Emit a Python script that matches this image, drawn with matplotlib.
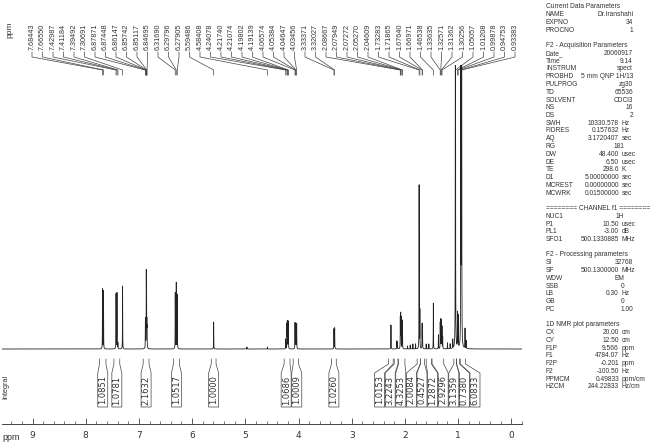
import numpy as np
import matplotlib
matplotlib.use('Agg')
import matplotlib.pyplot as plt
from matplotlib.ticker import MultipleLocator

# ---------------- data ----------------
peak_labels = ['7.68443', '7.66550', '7.42987', '7.41184', '7.39492', '7.30691',
               '6.87871', '6.87448', '6.86147', '6.85742', '6.85117', '6.84695',
               '6.31690', '6.29796', '6.27905', '5.59486', '4.58408', '4.24078',
               '4.21740', '4.21074', '4.19802', '4.19139', '4.06574', '4.05384',
               '4.04647', '4.03456', '3.33371', '3.32027', '2.08667', '2.07949',
               '2.07272', '2.05270', '2.04609', '1.73283', '1.71865', '1.67640',
               '1.66971', '1.46538', '1.33635', '1.32571', '1.31362', '1.30256',
               '1.05057', '1.01208', '0.99878', '0.94753', '0.93383']

# spectrum lines (ppm, relative intensity)
spec_ppm = [7.68443, 7.66550, 7.42987, 7.41184, 7.39492, 7.30691,
            6.87871, 6.87448, 6.86147, 6.85742, 6.85117, 6.84695,
            6.31690, 6.29796, 6.27905, 5.59486, 4.97, 4.58408,
            4.24078, 4.21740, 4.21074, 4.19802, 4.19139,
            4.06574, 4.05384, 4.04647, 4.03456, 3.33371, 3.32027,
            2.262, 2.15, 2.14, 2.08667, 2.07949, 2.07272, 2.05270, 2.04609,
            1.95, 1.90, 1.85, 1.80, 1.73283, 1.71865, 1.67640, 1.66971,
            1.60, 1.55, 1.46538, 1.37, 1.33635, 1.32571, 1.31362, 1.30256, 1.29,
            1.20, 1.15, 1.10, 1.05057, 1.01208, 0.99878, 0.94753, 0.93383,
            0.87, 0.85]
spec_height = [60, 58, 55, 56, 6, 63,
               22, 26, 67, 65, 22, 18,
               56, 66, 54, 27, 2, 2,
               10, 24, 26, 26, 25,
               26, 23, 23, 25, 20, 21,
               24, 8, 6, 30, 33, 30, 27, 25,
               3, 4, 5, 5, 164, 38, 24, 24,
               5, 5, 46, 14, 26, 29, 28, 22, 12,
               6, 5, 9, 700, 35, 32, 700, 600,
               20, 8]

int_values = ['1.0851', '1.0781', '2.1632', '1.0517', '1.0000', '1.0686', '1.0009',
              '1.0260', '1.0153', '3.2243', '4.3253', '2.0084', '0.4527', '1.2872',
              '2.9296', '3.1359', '0.7380', '6.0833']
int_left = [7.74, 7.47, 6.92, 6.35, 5.64, 4.27, 4.10, 3.38, 2.31, 2.20, 2.12,
            1.77, 1.71, 1.60, 1.49, 1.08, 1.03, 0.96]
int_right = [7.62, 7.36, 6.81, 6.24, 5.55, 4.16, 4.00, 3.29, 2.22, 2.13, 2.00,
             1.71, 1.63, 1.50, 1.27, 1.03, 0.97, 0.86]

xtick_values = [9, 8, 7, 6, 5, 4, 3, 2, 1, 0]
xtick_labels = ['9', '8', '7', '6', '5', '4', '3', '2', '1', '0']

F1P, F2P = 9.566, -0.201

param_rows = [
    ('Current Data Parameters', '', ''),
    ('NAME', 'Dr.Iranshahi', ''),
    ('EXPNO', '34', ''),
    ('PROCNO', '1', ''),
    None,
    ('F2 - Acquisition Parameters', '', ''),
    ('Date_', '20060917', ''),
    ('Time', '9.14', ''),
    ('INSTRUM', 'spect', ''),
    ('PROBHD', '5 mm QNP 1H/13', ''),
    ('PULPROG', 'zg30', ''),
    ('TD', '65536', ''),
    ('SOLVENT', 'CDCl3', ''),
    ('NS', '16', ''),
    ('DS', '2', ''),
    ('SWH', '10330.578', 'Hz'),
    ('FIDRES', '0.157632', 'Hz'),
    ('AQ', '3.1720407', 'sec'),
    ('RG', '181', ''),
    ('DW', '48.400', 'usec'),
    ('DE', '6.50', 'usec'),
    ('TE', '298.6', 'K'),
    ('D1', '5.00000000', 'sec'),
    ('MCREST', '0.00000000', 'sec'),
    ('MCWRK', '0.01500000', 'sec'),
    None,
    ('======== CHANNEL f1 ========', '', ''),
    ('NUC1', '1H', ''),
    ('P1', '10.50', 'usec'),
    ('PL1', '-3.00', 'dB'),
    ('SFO1', '500.1330885', 'MHz'),
    None,
    ('F2 - Processing parameters', '', ''),
    ('SI', '32768', ''),
    ('SF', '500.1300000', 'MHz'),
    ('WDW', 'EM', ''),
    ('SSB', '0', ''),
    ('LB', '0.30', 'Hz'),
    ('GB', '0', ''),
    ('PC', '1.00', ''),
    None,
    ('1D NMR plot parameters', '', ''),
    ('CX', '20.00', 'cm'),
    ('CY', '12.50', 'cm'),
    ('F1P', '9.566', 'ppm'),
    ('F1', '4784.07', 'Hz'),
    ('F2P', '-0.201', 'ppm'),
    ('F2', '-100.50', 'Hz'),
    ('PPMCM', '0.49833', 'ppm/cm'),
    ('HZCM', '244.22833', 'Hz/cm'),
]

# ---------------- layout ----------------
W, H, DPI = 656, 444, 100
NARROW = ['Liberation Sans', 'DejaVu Sans']
TXT = '#333333'
LINE = '#444444'
AX_L, AX_R = 2.4, 522.0          # pixel extent of ppm axis
HWHM = 0.0018


def fx(px):
    return px / W


def fy(py):
    return 1 - py / H


def px2ppm(px):
    return F1P + (px - AX_L) * (F2P - F1P) / (AX_R - AX_L)


def ppm2px(p):
    return AX_L + (p - F1P) * (AX_R - AX_L) / (F2P - F1P)


fig = plt.figure(figsize=(W / DPI, H / DPI), dpi=DPI)

# main axes: y in pixel units (0 top) for labels / integrals, bottom spine = ppm axis
ax = fig.add_axes([fx(AX_L), fy(424), fx(AX_R) - fx(AX_L), fy(0) - fy(424)])
ax.set_xlim(F1P, F2P)
ax.set_ylim(424, 0)
ax.patch.set_visible(False)
for s in ['top', 'left', 'right']:
    ax.spines[s].set_visible(False)
ax.spines['bottom'].set_color(LINE)
ax.spines['bottom'].set_linewidth(0.7)
ax.set_yticks([])
ax.set_xticks(xtick_values)
ax.set_xticklabels(xtick_labels)
ax.xaxis.set_minor_locator(MultipleLocator(0.2))
ax.tick_params(axis='x', which='major', direction='in', length=4, width=0.6,
               color=LINE, labelsize=6.5, labelcolor=TXT, pad=5)
ax.tick_params(axis='x', which='minor', direction='in', length=2.5, width=0.5,
               color=LINE)

# spectrum axes
ax_s = fig.add_axes([fx(AX_L), fy(351), fx(AX_R) - fx(AX_L), fy(65) - fy(351)])
ax_s.set_xlim(F1P, F2P)
ax_s.set_ylim(-2, 284)
ax_s.axis('off')
xs = np.linspace(F1P, F2P, 40000)
ys = np.zeros_like(xs)
for p, h in zip(spec_ppm, spec_height):
    ys += h / (1 + ((xs - p) / HWHM) ** 2)
ax_s.plot(xs, ys, color='#222222', lw=0.6)

# peak labels with connectors
n = len(peak_labels)
lab_px = np.linspace(32, 515, n)
for lp, s in zip(lab_px, peak_labels):
    lx = px2ppm(lp)
    pk = float(s)
    ax.text(lx, 50, s, rotation=90, ha='center', va='bottom', fontsize=5.2,
            family=NARROW, color=TXT)
    ax.plot([lx, lx, pk, pk], [52, 57, 70, 75], color=LINE, lw=0.5,
            solid_joinstyle='miter')

# integral boxes: cluster-resolve box centres (pixel space)
BOXW = 10.0
MIN_SP = 10.6
want = [ppm2px((a + b) / 2) for a, b in zip(int_left, int_right)]
groups = [[i] for i in range(len(want))]


def gpos(g):
    m = np.mean([want[i] for i in g])
    return [m + (k - (len(g) - 1) / 2) * MIN_SP for k in range(len(g))]


changed = True
while changed:
    changed = False
    for j in range(len(groups) - 1):
        a = gpos(groups[j])
        b = gpos(groups[j + 1])
        if b[0] - a[-1] < MIN_SP:
            groups[j] = groups[j] + groups[j + 1]
            del groups[j + 1]
            changed = True
            break
centers = {}
for g in groups:
    for i, c in zip(g, gpos(g)):
        centers[i] = c

for i, val in enumerate(int_values):
    c = centers[i]
    bl, br = px2ppm(c - BOXW / 2), px2ppm(c + BOXW / 2)
    L, R = int_left[i], int_right[i]
    ax.plot([L, L, bl, bl, br, br, R, R],
            [359, 364, 373, 407, 407, 373, 364, 359],
            color=LINE, lw=0.5)
    ax.text(px2ppm(c), 390, val, rotation=90, ha='center', va='center',
            fontsize=6, color=TXT)

fig.text(fx(6), fy(387), 'Integral', rotation=90, ha='center', va='center',
         fontsize=5.2, family=NARROW, color=TXT)
fig.text(fx(9.5), fy(30), 'ppm', rotation=90, ha='center', va='center',
         fontsize=6, family=NARROW, color=TXT)
fig.text(fx(11), fy(437), 'ppm', ha='center', va='center',
         fontsize=6.5, family=NARROW, color=TXT)

# parameter panel
X_NAME, X_VAL, X_UNIT, X_PLAIN = 546, 619, 622, 633
short_vals = {'181', '1H', 'EM', '0'}
for r, row in enumerate(param_rows):
    if row is None:
        continue
    y = fy(7 + r * 7.75)
    name, val, unit = row
    kw = dict(fontsize=4.8, family=NARROW, color=TXT, va='center')
    fig.text(fx(X_NAME), y, name, ha='left', **kw)
    if val:
        if unit:
            fig.text(fx(X_VAL), y, val, ha='right', **kw)
            fig.text(fx(X_UNIT), y, unit, ha='left', **kw)
        elif val in short_vals:
            fig.text(fx(624), y, val, ha='right', **kw)
        else:
            fig.text(fx(X_PLAIN), y, val, ha='right', **kw)

fig.savefig('out.png', dpi=DPI)
